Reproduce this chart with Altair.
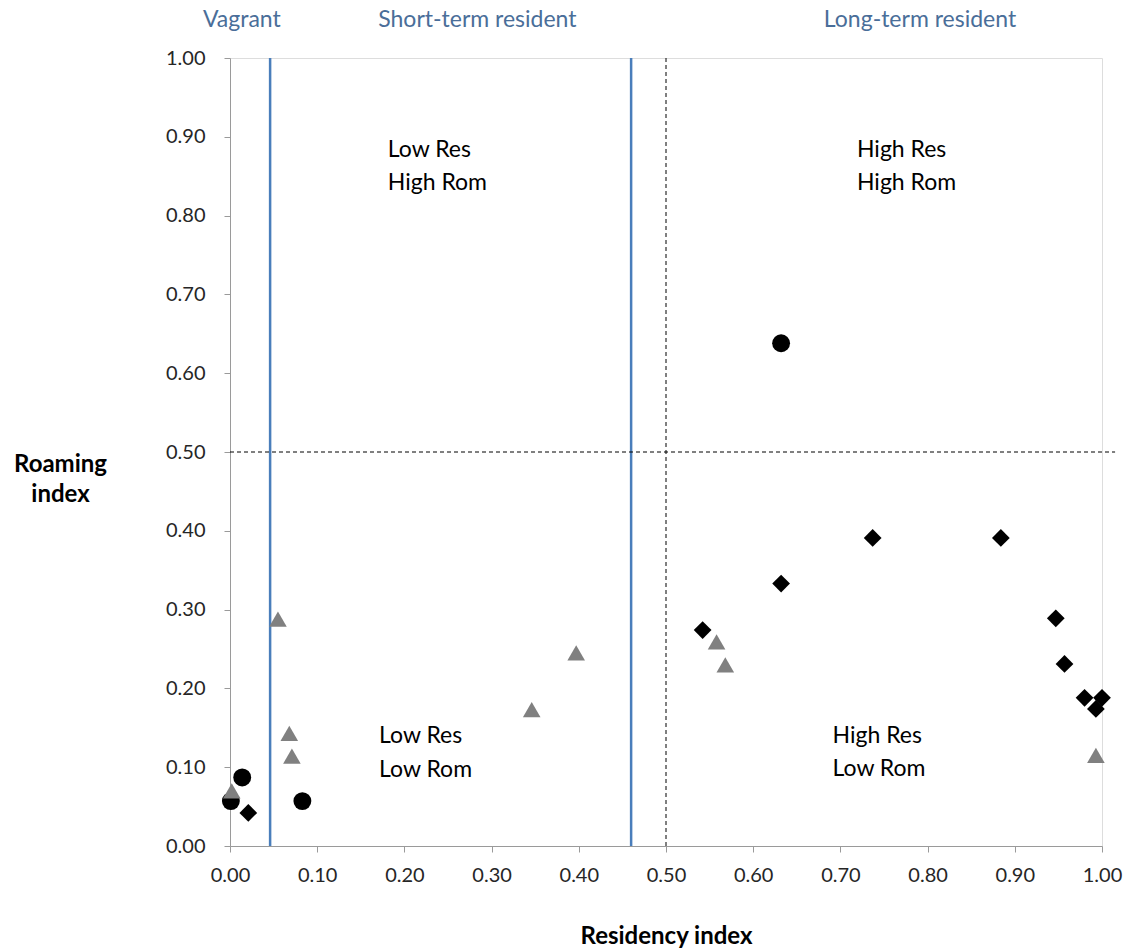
import altair as alt
import pandas as pd

# --- data ---
circle_x = [0.001, 0.014, 0.083, 0.632]
circle_y = [0.057, 0.087, 0.057, 0.638]

diamond_x = [0.021, 0.542, 0.632, 0.737, 0.884, 0.947, 0.957, 0.980, 1.000, 0.993]
diamond_y = [0.042, 0.274, 0.333, 0.391, 0.391, 0.289, 0.231, 0.188, 0.188, 0.174]

triangle_x = [0.002, 0.055, 0.068, 0.071, 0.346, 0.397, 0.558, 0.568, 0.993]
triangle_y = [0.070, 0.288, 0.143, 0.114, 0.173, 0.245, 0.259, 0.230, 0.115]

blue_lines = [0.046, 0.46]
category_labels = ["Vagrant", "Short-term resident", "Long-term resident"]
category_x = [-0.031, 0.170, 0.681]

quad_lines = ["Low Res", "High Rom", "High Res", "High Rom",
              "Low Res", "Low Rom", "High Res", "Low Rom"]
quad_x = [0.181, 0.181, 0.719, 0.719, 0.171, 0.171, 0.691, 0.691]
quad_y = [0.883, 0.841, 0.883, 0.841, 0.139, 0.097, 0.140, 0.098]

x_ticks = [round(i * 0.1, 2) for i in range(11)]
y_ticks = [round(i * 0.1, 2) for i in range(11)]

FONT = "Lato"

pts = pd.concat([
    pd.DataFrame({"x": circle_x, "y": circle_y, "s": "circle"}),
    pd.DataFrame({"x": diamond_x, "y": diamond_y, "s": "diamond"}),
    pd.DataFrame({"x": triangle_x, "y": triangle_y, "s": "triangle"}),
], ignore_index=True)

xscale = alt.Scale(domain=[0, 1], nice=False, zero=False)
yscale = alt.Scale(domain=[0, 1], nice=False, zero=False)

xaxis = alt.Axis(values=x_ticks, format=".2f", grid=False, domainColor="#9a9a9a",
                 tickColor="#9a9a9a", tickSize=6, labelPadding=13, labelFontSize=20,
                 labelFont=FONT, labelColor="#262626", labelFlush=False,
                 title="Residency index",
                 titleFont=FONT, titleFontSize=24, titleFontWeight="bold",
                 titleColor="#000000", titleY=90, titleBaseline="middle")
yaxis = alt.Axis(values=y_ticks, format=".2f", grid=False, domainColor="#9a9a9a",
                 tickColor="#9a9a9a", tickSize=6, labelPadding=19, labelFontSize=20,
                 labelFont=FONT, labelColor="#262626", labelFlush=False,
                 title=["Roaming", "index"],
                 titleFont=FONT, titleFontSize=24, titleFontWeight="bold",
                 titleColor="#000000", titleAngle=0, titleX=-170, titleY=394,
                 titleAlign="center", titleBaseline="top", titleLineHeight=30)

base_pts = alt.Chart(pts).mark_point(filled=True, opacity=1, strokeWidth=0).encode(
    x=alt.X("x:Q", scale=xscale, axis=xaxis),
    y=alt.Y("y:Q", scale=yscale, axis=yaxis),
    shape=alt.Shape("s:N", scale=alt.Scale(domain=["circle", "diamond", "triangle"],
                                            range=["circle", "diamond", "triangle-up"]),
                    legend=None),
    color=alt.Color("s:N", scale=alt.Scale(domain=["circle", "diamond", "triangle"],
                                            range=["#000000", "#000000", "#808080"]),
                    legend=None),
    size=alt.Size("s:N", scale=alt.Scale(domain=["circle", "diamond", "triangle"],
                                          range=[320, 310, 380]),
                  legend=None),
)

blue = alt.Chart(pd.DataFrame({"x": blue_lines})).mark_rule(
    color="#4A7EBB", strokeWidth=2.5).encode(
    x=alt.X("x:Q", scale=xscale),
    y=alt.datum(0), y2=alt.datum(1))

vdash = alt.Chart(pd.DataFrame({"x": [0.5]})).mark_rule(
    color="#000000", strokeWidth=1, strokeDash=[4, 3]).encode(
    x=alt.X("x:Q", scale=xscale),
    y=alt.datum(0), y2=alt.datum(1))

hdash = alt.Chart(pd.DataFrame({"y": [0.5]})).mark_rule(
    color="#000000", strokeWidth=1, strokeDash=[4, 3], clip=False).encode(
    y=alt.Y("y:Q", scale=yscale),
    x=alt.datum(0), x2=alt.datum(1.015))

cat = alt.Chart(pd.DataFrame({"x": category_x, "t": category_labels})).mark_text(
    align="left", baseline="middle", font=FONT, fontSize=23, color="#4A6E99").encode(
    x=alt.X("x:Q", scale=xscale), y=alt.datum(1.048), text="t:N")

quad = alt.Chart(pd.DataFrame({"x": quad_x, "y": quad_y, "t": quad_lines})).mark_text(
    align="left", baseline="middle", font=FONT, fontSize=23, color="#000000").encode(
    x=alt.X("x:Q", scale=xscale), y=alt.Y("y:Q", scale=yscale), text="t:N")

chart = alt.layer(blue, vdash, hdash, quad, cat, base_pts).properties(
    width=872, height=788,
    autosize=alt.AutoSizeParams(type="none"),
    padding={"left": 230, "top": 58, "right": 28, "bottom": 106},
).configure_view(stroke=None).configure(background="white")

chart.save("out.html", embed_options={"renderer": "svg", "actions": False})
